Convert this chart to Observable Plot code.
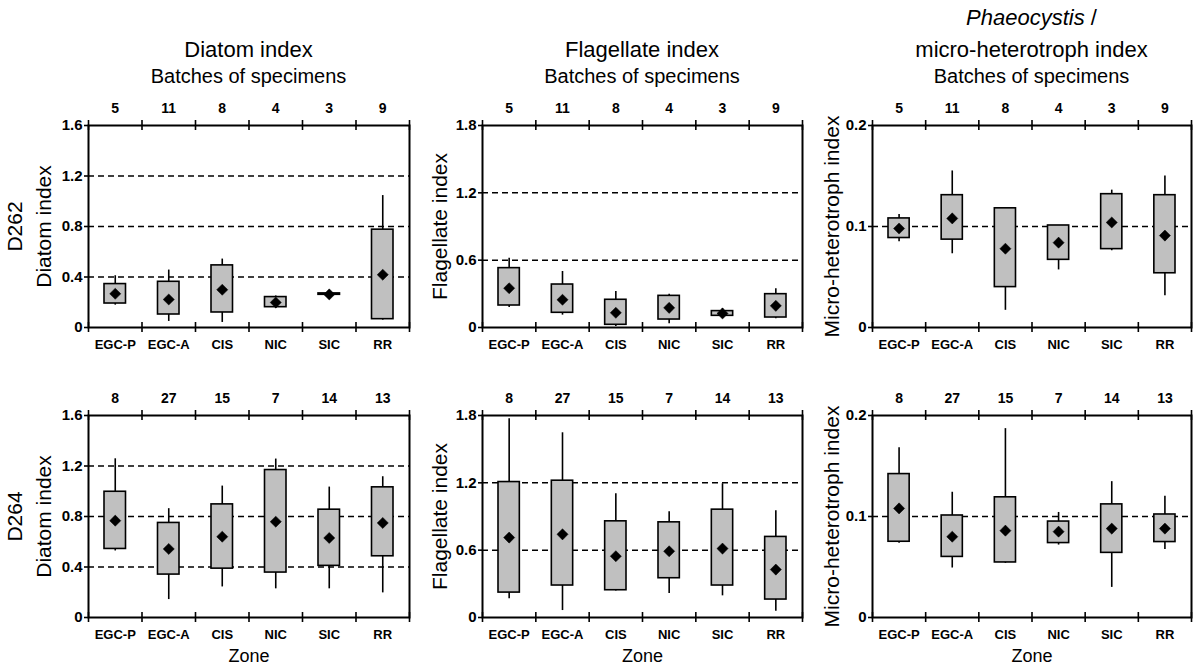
<!DOCTYPE html>
<html><head><meta charset="utf-8">
<script src="https://cdn.jsdelivr.net/npm/d3@7"></script>
<script src="https://cdn.jsdelivr.net/npm/@observablehq/plot@0.6"></script>
<style>
body{margin:0;background:#fff;}
#wrap{position:relative;width:1199px;height:666px;overflow:hidden;font-family:"Liberation Sans",Arial,sans-serif;color:#000;background:#fff}
.panel{position:absolute}
.t{position:absolute;width:360px;text-align:center;line-height:1;white-space:nowrap}
</style></head><body><div id="wrap"></div>
<script>
// ---- data ----
const zones = ["EGC-P", "EGC-A", "CIS", "NIC", "SIC", "RR"];
const countsD262 = [5, 11, 8, 4, 3, 9];
const countsD264 = [8, 27, 15, 7, 14, 13];

const diatomTicks = [0, 0.4, 0.8, 1.2, 1.6];
const flagTicks = [0, 0.6, 1.2, 1.8];
const microTicks = [0, 0.1, 0.2];
const diatomRefs = [0.4, 0.8, 1.2];
const flagRefs = [0.6, 1.2];
const microRefs = [0.1];

// D262 diatom index
const d262DiatomLow  = [0.177, 0.048, 0.040, 0.150, 0.259, 0.058];
const d262DiatomQ1   = [0.190, 0.103, 0.119, 0.161, 0.259, 0.066];
const d262DiatomQ3   = [0.344, 0.362, 0.492, 0.241, 0.270, 0.775];
const d262DiatomHigh = [0.410, 0.455, 0.542, 0.250, 0.270, 1.045];
const d262DiatomMean = [0.267, 0.222, 0.299, 0.198, 0.262, 0.418];
// D262 flagellate index
const d262FlagLow  = [0.178, 0.110, 0.009, 0.033, 0.080, 0.077];
const d262FlagQ1   = [0.196, 0.131, 0.024, 0.071, 0.104, 0.089];
const d262FlagQ3   = [0.529, 0.383, 0.247, 0.282, 0.146, 0.297];
const d262FlagHigh = [0.618, 0.499, 0.321, 0.297, 0.169, 0.345];
const d262FlagMean = [0.350, 0.247, 0.131, 0.175, 0.125, 0.193];
// D262 micro-heterotroph index
const d262MicroLow  = [0.085, 0.073, 0.017, 0.057, 0.076, 0.0315];
const d262MicroQ1   = [0.0886, 0.087, 0.040, 0.067, 0.0776, 0.0537];
const d262MicroQ3   = [0.108, 0.131, 0.118, 0.101, 0.132, 0.131];
const d262MicroHigh = [0.112, 0.155, 0.118, 0.101, 0.136, 0.150];
const d262MicroMean = [0.098, 0.108, 0.078, 0.084, 0.104, 0.091];
// D264 diatom index
const d264DiatomLow  = [0.527, 0.142, 0.242, 0.227, 0.227, 0.195];
const d264DiatomQ1   = [0.543, 0.340, 0.387, 0.356, 0.409, 0.485];
const d264DiatomQ3   = [0.996, 0.749, 0.896, 1.168, 0.854, 1.031];
const d264DiatomHigh = [1.257, 0.862, 1.041, 1.255, 1.033, 1.115];
const d264DiatomMean = [0.767, 0.543, 0.640, 0.759, 0.630, 0.749];
// D264 flagellate index
const d264FlagLow  = [0.166, 0.062, 0.237, 0.214, 0.193, 0.056];
const d264FlagQ1   = [0.222, 0.285, 0.243, 0.350, 0.285, 0.160];
const d264FlagQ3   = [1.207, 1.219, 0.857, 0.848, 0.961, 0.718];
const d264FlagHigh = [1.770, 1.646, 1.103, 0.943, 1.192, 0.952];
const d264FlagMean = [0.712, 0.741, 0.546, 0.590, 0.614, 0.427];
// D264 micro-heterotroph index
const d264MicroLow  = [0.0734, 0.049, 0.0536, 0.0717, 0.0298, 0.0674];
const d264MicroQ1   = [0.075, 0.060, 0.0545, 0.0737, 0.064, 0.0747];
const d264MicroQ3   = [0.142, 0.101, 0.119, 0.095, 0.112, 0.102];
const d264MicroHigh = [0.168, 0.124, 0.187, 0.104, 0.1345, 0.120];
const d264MicroMean = [0.108, 0.080, 0.086, 0.085, 0.088, 0.088];

// ---- layout ----
const wrap = document.getElementById("wrap");
const cols = [
  {left: 0, width: 420, mL: 88, mR: 11, center: 248.5},
  {left: 420, width: 390, mL: 62, mR: 8, center: 642},
  {left: 810, width: 389, mL: 62, mR: 8, center: 1031.5}
];
const rowsCfg = [
  {top: 80, height: 290, mT: 45, mB: 43},
  {top: 370, height: 296, mT: 45, mB: 49}
];
const FONT = '"Liberation Sans", Arial, sans-serif';

function panel(col, row, s) {
  const c = cols[col], r = rowsCfg[row];
  const data = zones.map((z, i) => ({zone: z, i, lo: s.lo[i], q1: s.q1[i], q3: s.q3[i], hi: s.hi[i], mean: s.mean[i], n: s.counts[i]}));
  const ph = r.height - r.mT - r.mB;
  const t = s.ymax * 5 / ph;
  const bounds = d3.range(zones.length + 1);
  const marks = [
    Plot.ruleY(s.refs, {y: d => d, stroke: "#000", strokeWidth: 1.5, strokeDasharray: "6,4"}),
    Plot.ruleX(data, {x: d => d.i + 0.5, y1: "lo", y2: "hi", stroke: "#000", strokeWidth: 1.6}),
    Plot.rect(data, {x1: d => d.i, x2: d => d.i + 1, y1: "q1", y2: "q3", insetLeft: 16, insetRight: 16, fill: "#c0c0c0", stroke: "#000", strokeWidth: 1.6}),
    Plot.dot(data, {x: d => d.i + 0.5, y: "mean", symbol: "diamond2", r: 5, fill: "#000", stroke: "#000", strokeWidth: 0.5}),
    Plot.frame({stroke: "#000", strokeWidth: 2}),
    Plot.ruleX(bounds, {x: d => d, y1: s.ymax - t, y2: s.ymax + t, stroke: "#000", strokeWidth: 1.6}),
    Plot.ruleX(bounds, {x: d => d, y1: -t, y2: t, stroke: "#000", strokeWidth: 1.6}),
    Plot.axisY({ticks: s.ticks, tickFormat: d => String(d), tickSize: 4, tickPadding: 2, fontSize: 15, fontWeight: "bold", strokeWidth: 1.6}),
    Plot.text(data, {x: d => d.i + 0.5, text: d => String(d.n), frameAnchor: "top", dy: -22, fontSize: 14, fontWeight: "bold"}),
    Plot.text(data, {x: d => d.i + 0.5, text: "zone", frameAnchor: "bottom", dy: 21, fontSize: 13, fontWeight: "bold"}),
    ...s.ylabels.map(([txt, dx]) => Plot.text([txt], {text: d => d, frameAnchor: "left", dx, rotate: -90, fontSize: 21, textAnchor: "middle", lineAnchor: "middle"}))
  ];
  if (row === 1) marks.push(Plot.text(["Zone"], {text: d => d, frameAnchor: "bottom", dy: 44, fontSize: 18}));
  const svg = Plot.plot({
    width: c.width, height: r.height,
    marginLeft: c.mL, marginRight: c.mR, marginTop: r.mT, marginBottom: r.mB,
    x: {domain: [0, zones.length], axis: null},
    y: {domain: [0, s.ymax]},
    style: {fontFamily: FONT, color: "#000", background: "transparent", overflow: "visible"},
    marks
  });
  svg.querySelectorAll('g[aria-label="y-axis tick label"]').forEach(g => {
    g.setAttribute("font-size", "15");
    g.setAttribute("font-weight", "bold");
  });
  svg.classList.add("panel");
  svg.style.left = c.left + "px";
  svg.style.top = r.top + "px";
  wrap.appendChild(svg);
}

panel(0, 0, {lo: d262DiatomLow, q1: d262DiatomQ1, q3: d262DiatomQ3, hi: d262DiatomHigh, mean: d262DiatomMean, counts: countsD262, ymax: 1.6, ticks: diatomTicks, refs: diatomRefs, ylabels: [["D262", -73], ["Diatom index", -44]]});
panel(1, 0, {lo: d262FlagLow, q1: d262FlagQ1, q3: d262FlagQ3, hi: d262FlagHigh, mean: d262FlagMean, counts: countsD262, ymax: 1.8, ticks: flagTicks, refs: flagRefs, ylabels: [["Flagellate index", -42]]});
panel(2, 0, {lo: d262MicroLow, q1: d262MicroQ1, q3: d262MicroQ3, hi: d262MicroHigh, mean: d262MicroMean, counts: countsD262, ymax: 0.2, ticks: microTicks, refs: microRefs, ylabels: [["Micro-heterotroph index", -40]]});
panel(0, 1, {lo: d264DiatomLow, q1: d264DiatomQ1, q3: d264DiatomQ3, hi: d264DiatomHigh, mean: d264DiatomMean, counts: countsD264, ymax: 1.6, ticks: diatomTicks, refs: diatomRefs, ylabels: [["D264", -73], ["Diatom index", -44]]});
panel(1, 1, {lo: d264FlagLow, q1: d264FlagQ1, q3: d264FlagQ3, hi: d264FlagHigh, mean: d264FlagMean, counts: countsD264, ymax: 1.8, ticks: flagTicks, refs: flagRefs, ylabels: [["Flagellate index", -42]]});
panel(2, 1, {lo: d264MicroLow, q1: d264MicroQ1, q3: d264MicroQ3, hi: d264MicroHigh, mean: d264MicroMean, counts: countsD264, ymax: 0.2, ticks: microTicks, refs: microRefs, ylabels: [["Micro-heterotroph index", -40]]});

// ---- titles ----
function title(html, cx, top, size, extra) {
  const d = document.createElement("div");
  d.className = "t";
  d.style.left = (cx - 180) + "px";
  d.style.top = top + "px";
  d.style.fontSize = size + "px";
  if (extra) Object.assign(d.style, extra);
  d.innerHTML = html;
  wrap.appendChild(d);
}
title("Diatom index", cols[0].center, 39, 22);
title("Flagellate index", cols[1].center, 39, 22);
title("<i>Phaeocystis</i> /", cols[2].center, 7, 22);
title("micro-heterotroph index", cols[2].center, 39, 22);
for (const c of cols) title("Batches of specimens", c.center, 66, 20);
</script></body></html>
